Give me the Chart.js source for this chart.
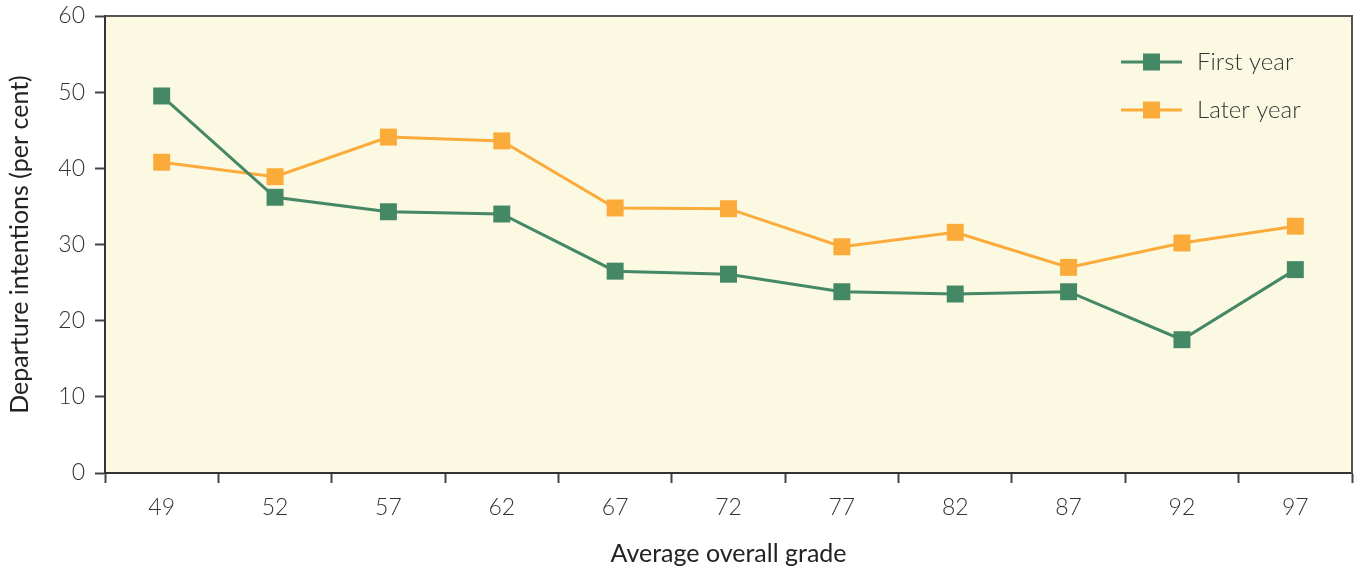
<!DOCTYPE html>
<html>
<head>
<meta charset="utf-8">
<script src="https://cdn.jsdelivr.net/npm/chart.js@4/dist/chart.umd.min.js"></script>
<style>
  html, body { margin: 0; padding: 0; background: #ffffff; }
  #wrap { width: 1365px; height: 575px; position: relative; }
</style>
</head>
<body>
<div id="wrap"><canvas id="c" width="1365" height="575"></canvas></div>
<script>
// Average overall grade (category labels)
const grades = ['49', '52', '57', '62', '67', '72', '77', '82', '87', '92', '97'];
// Departure intentions, per cent
const firstYear = [49.5, 36.2, 34.3, 34.0, 26.5, 26.1, 23.8, 23.5, 23.8, 17.5, 26.7];
const laterYear = [40.8, 38.9, 44.1, 43.6, 34.8, 34.7, 29.7, 31.6, 27.0, 30.2, 32.4];
const yTicks = [0, 10, 20, 30, 40, 50, 60];

const GREEN = '#448866';
const ORANGE = '#fbab3a';
const INK = '#333333';
const FONT = "'Lato', 'Open Sans', sans-serif";

// Pale panel behind the plot and a frame round it
const panel = {
  id: 'panel',
  beforeDraw(chart) {
    const { ctx, chartArea: a } = chart;
    ctx.save();
    ctx.fillStyle = '#fcf9e3';
    ctx.fillRect(a.left, a.top, a.right - a.left, a.bottom - a.top);
    ctx.restore();
  },
  afterDatasetsDraw(chart) {
    const { ctx, chartArea: a } = chart;
    ctx.save();
    ctx.strokeStyle = '#555555';
    ctx.lineWidth = 2;
    ctx.beginPath();
    ctx.moveTo(a.left, a.top);
    ctx.lineTo(a.right, a.top);
    ctx.lineTo(a.right, a.bottom);
    ctx.stroke();
    ctx.restore();
  }
};

// Legend drawn inside the plot, top right
const insideLegend = {
  id: 'insideLegend',
  afterDraw(chart) {
    const { ctx, chartArea: a } = chart;
    const x0 = a.right - 231, x1 = a.right - 170, xt = a.right - 155;
    let y = a.top + 46;
    ctx.save();
    chart.data.datasets.forEach(ds => {
      ctx.strokeStyle = ds.borderColor;
      ctx.lineWidth = 3;
      ctx.beginPath();
      ctx.moveTo(x0, y);
      ctx.lineTo(x1, y);
      ctx.stroke();
      ctx.fillStyle = ds.pointBackgroundColor;
      const s = 17, cx = (x0 + x1) / 2;
      ctx.fillRect(cx - s / 2, y - s / 2, s, s);
      ctx.fillStyle = INK;
      ctx.font = "300 24px " + FONT;
      ctx.textBaseline = 'middle';
      ctx.textAlign = 'left';
      ctx.fillText(ds.label, xt, y);
      y += 48;
    });
    ctx.restore();
  }
};

new Chart(document.getElementById('c'), {
  type: 'line',
  data: {
    labels: grades,
    datasets: [
      {
        label: 'First year',
        data: firstYear,
        borderColor: GREEN,
        backgroundColor: GREEN,
        pointBackgroundColor: GREEN,
        borderWidth: 3,
        pointStyle: 'rect',
        pointRadius: 12,
        pointBorderWidth: 0,
        tension: 0
      },
      {
        label: 'Later year',
        data: laterYear,
        borderColor: ORANGE,
        backgroundColor: ORANGE,
        pointBackgroundColor: ORANGE,
        borderWidth: 3,
        pointStyle: 'rect',
        pointRadius: 12,
        pointBorderWidth: 0,
        tension: 0
      }
    ]
  },
  options: {
    responsive: false,
    animation: false,
    layout: { padding: { top: 16, right: 13, bottom: 0, left: 0 } },
    plugins: { legend: { display: false }, tooltip: { enabled: false } },
    scales: {
      x: {
        type: 'category',
        offset: true,
        afterFit(axis) { axis.height = 102; },
        grid: {
          offset: true,
          drawOnChartArea: false,
          drawTicks: true,
          tickLength: 10,
          tickWidth: 2,
          tickColor: '#444444'
        },
        border: { display: true, color: '#333333', width: 2 },
        ticks: { color: INK, font: { family: FONT, size: 23, weight: '300' }, padding: 11, maxRotation: 0 },
        title: {
          display: true,
          text: 'Average overall grade',
          color: '#222222',
          font: { family: FONT, size: 25, weight: '400' },
          padding: { top: 11, bottom: 6 }
        }
      },
      y: {
        min: 0,
        max: 60,
        afterFit(axis) { axis.width = 105; axis.paddingTop = 0; axis.paddingBottom = 0; },
        afterBuildTicks(axis) { axis.ticks = yTicks.map(v => ({ value: v })); },
        grid: {
          drawOnChartArea: false,
          drawTicks: true,
          tickLength: 10,
          tickWidth: 2,
          tickColor: '#444444'
        },
        border: { display: true, color: '#333333', width: 2 },
        ticks: { color: INK, font: { family: FONT, size: 23, weight: '300' }, padding: 10 },
        title: {
          display: true,
          text: 'Departure intentions (per cent)',
          color: '#222222',
          font: { family: FONT, size: 25, weight: '400' },
          padding: { top: 5, bottom: 14 }
        }
      }
    }
  },
  plugins: [panel, insideLegend]
});
</script>
</body>
</html>
